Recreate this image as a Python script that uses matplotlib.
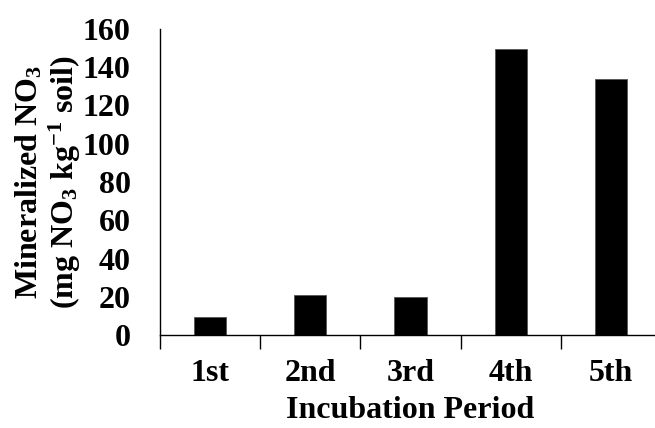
import matplotlib
matplotlib.use("Agg")
import matplotlib.pyplot as plt
import numpy as np

periods = ["1st", "2nd", "3rd", "4th", "5th"]
no3 = [9.6, 21, 20, 149.5, 134]

plt.rcParams['font.family'] = 'Liberation Serif'
plt.rcParams['font.weight'] = 'bold'
plt.rcParams['mathtext.default'] = 'regular'

fig = plt.figure(figsize=(6.55, 4.28), dpi=100)
ax = fig.add_axes([160 / 655, 1 - 335 / 428, 501 / 655, 306 / 428])

x = np.arange(len(periods))
ax.bar(x, no3, width=0.32, color='black', edgecolor='#555555', linewidth=0.6)

ax.set_xlim(-0.5, len(periods) - 0.5)
ax.set_ylim(0, 160)
ax.set_yticks(range(0, 161, 20))
ax.tick_params(axis='y', length=0, pad=21, labelsize=23)

ax.set_xticks(x)
ax.set_xticklabels(periods, fontsize=23, fontweight='bold')
ax.tick_params(axis='x', which='major', length=0, pad=17)
ax.set_xticks(np.arange(-0.5, len(periods), 1), minor=True)
ax.tick_params(axis='x', which='minor', length=10, width=1, direction='out')

for s in ['top', 'right']:
    ax.spines[s].set_visible(False)
ax.spines['left'].set_linewidth(1)
ax.spines['bottom'].set_linewidth(1)

ax.set_xlabel("Incubation Period", fontsize=23, fontweight='bold', labelpad=6)
ax.set_ylabel("Mineralized NO$_3$\n(mg NO$_3$ kg$^{-1}$ soil)", fontsize=23,
              fontweight='bold', linespacing=1.08, labelpad=0)

fig.savefig("out.png", dpi=100)
